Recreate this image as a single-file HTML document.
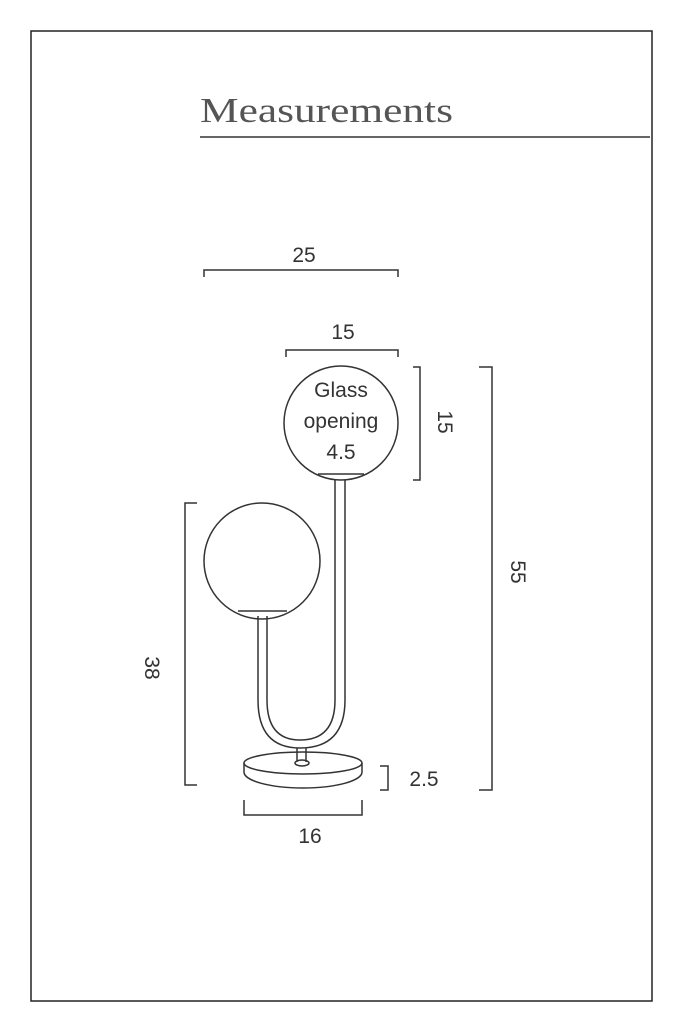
<!DOCTYPE html>
<html><head><style>
html,body{margin:0;padding:0;background:#fff;}
svg{display:block;}
</style></head><body>
<svg width="682" height="1024" viewBox="0 0 682 1024" xmlns="http://www.w3.org/2000/svg">
<rect x="31" y="31" width="621" height="970" fill="none" stroke="#222" stroke-width="1.5"/>
<text x="200" y="122" font-family="Liberation Serif, serif" font-size="35" fill="#555" textLength="253" lengthAdjust="spacingAndGlyphs">Measurements</text>
<line x1="200" y1="137" x2="650" y2="137" stroke="#333" stroke-width="1.5"/>
<g fill="none" stroke="#333" stroke-width="1.5">
<circle cx="341" cy="423" r="57"/>
<line x1="318" y1="474" x2="364" y2="474"/>
<circle cx="262" cy="561" r="58"/>
<line x1="238" y1="611" x2="287" y2="611"/>
<path d="M258 616 L258 700 Q258 748 300 748 Q345 748 345 700 L345 480"/>
<path d="M267 616 L267 700 Q267 740 300 740 Q335 740 335 700 L335 480"/>
<line x1="297" y1="748" x2="297" y2="762"/>
<line x1="306" y1="748" x2="306" y2="762"/>
<ellipse cx="303" cy="763" rx="59" ry="11"/>
<path d="M244 763 L244 772 A59 16 0 0 0 362 772 L362 763"/>
<ellipse cx="302" cy="763" rx="7" ry="3"/>
<path d="M204 277 V270 H398 V277"/>
<path d="M286 357 V350 H398 V357"/>
<path d="M413 367 H420 V480 H413"/>
<path d="M479 367 H492 V790 H479"/>
<path d="M197 503 H185 V785 H197"/>
<path d="M380 766 H388 V790 H380"/>
<path d="M244 800 V815 H362 V800"/>
</g>
<g font-family="Liberation Sans, sans-serif" font-size="21" fill="#333" text-anchor="middle">
<text x="304" y="262">25</text>
<text x="343" y="339">15</text>
<text x="341" y="397">Glass</text>
<text x="341" y="428">opening</text>
<text x="341" y="459">4.5</text>
<text transform="translate(438,422) rotate(90)">15</text>
<text transform="translate(511,572) rotate(90)">55</text>
<text transform="translate(145,668) rotate(90)">38</text>
<text x="424" y="786">2.5</text>
<text x="310" y="843">16</text>
</g>
</svg>
</body></html>
